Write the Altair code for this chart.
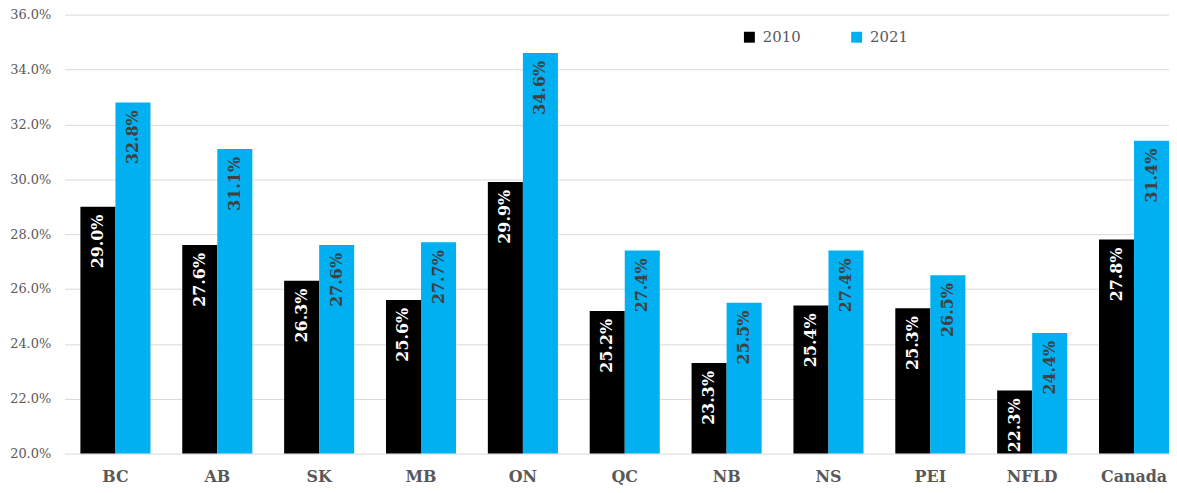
import altair as alt
import pandas as pd

categories = ["BC", "AB", "SK", "MB", "ON", "QC", "NB", "NS", "PEI", "NFLD", "Canada"]
years = ["2010", "2021"]
v2010 = [29.0, 27.6, 26.3, 25.6, 29.9, 25.2, 23.3, 25.4, 25.3, 22.3, 27.8]
v2021 = [32.8, 31.1, 27.6, 27.7, 34.6, 27.4, 25.5, 27.4, 26.5, 24.4, 31.4]
y_ticks = [20, 22, 24, 26, 28, 30, 32, 34, 36]
y_min = 20

rows = []
for c, a, b in zip(categories, v2010, v2021):
    rows.append({"cat": c, "year": "2010", "value": a})
    rows.append({"cat": c, "year": "2021", "value": b})
df = pd.DataFrame(rows)

FONT = "DejaVu Serif"

x_enc = alt.X("cat:N", sort=categories, title=None,
              scale=alt.Scale(paddingInner=0.312, paddingOuter=0.155, range=[0, 1128]),
              axis=alt.Axis(labelAngle=0, domain=False, ticks=False, labelFontWeight="bold",
                            labelFontSize=16, labelColor="#595959", labelFont=FONT,
                            labelPadding=15))
y_enc = alt.Y("value:Q", title=None,
              scale=alt.Scale(domain=[20, 36], zero=False, nice=False),
              axis=alt.Axis(values=y_ticks, labelExpr="format(datum.value, '.1f') + '%'",
                            domain=False, ticks=False, gridColor="#d9d9d9",
                            labelFontSize=13, labelColor="#595959", labelFont=FONT,
                            labelPadding=14))

bars = alt.Chart(df).mark_bar().encode(
    x=x_enc,
    xOffset=alt.XOffset("year:N", sort=years),
    y=y_enc,
    y2=alt.datum(y_min),
    color=alt.Color("year:N", sort=years,
                    scale=alt.Scale(domain=years, range=["#000000", "#00B0F0"]),
                    legend=alt.Legend(title=None, orient="none", legendX=682, legendY=15,
                                      direction="horizontal", symbolType="square",
                                      symbolSize=121, symbolStrokeWidth=0,
                                      labelFontSize=15, labelColor="#595959",
                                      labelFont=FONT, columnPadding=48, labelOffset=6)),
)

labels = alt.Chart(df).transform_calculate(
    lbl="format(datum.value, '.1f') + '%'"
).mark_text(angle=270, align="right", baseline="middle", dx=-8,
            font=FONT, fontWeight="bold", fontSize=16).encode(
    x=alt.X("cat:N", sort=categories),
    xOffset=alt.XOffset("year:N", sort=years),
    y=alt.Y("value:Q"),
    text=alt.Text("lbl:N"),
    color=alt.condition("datum.year == '2010'", alt.value("#ffffff"), alt.value("#404040")),
)

chart = alt.layer(bars, labels).properties(
    width=1112, height=442, autosize="none",
    padding={"left": 57, "top": 5, "right": 0, "bottom": 38},
).configure_view(stroke=None).configure_scale(offsetBandPaddingInner=0)

chart.save("out.html", embed_options={"renderer": "svg", "actions": False})
